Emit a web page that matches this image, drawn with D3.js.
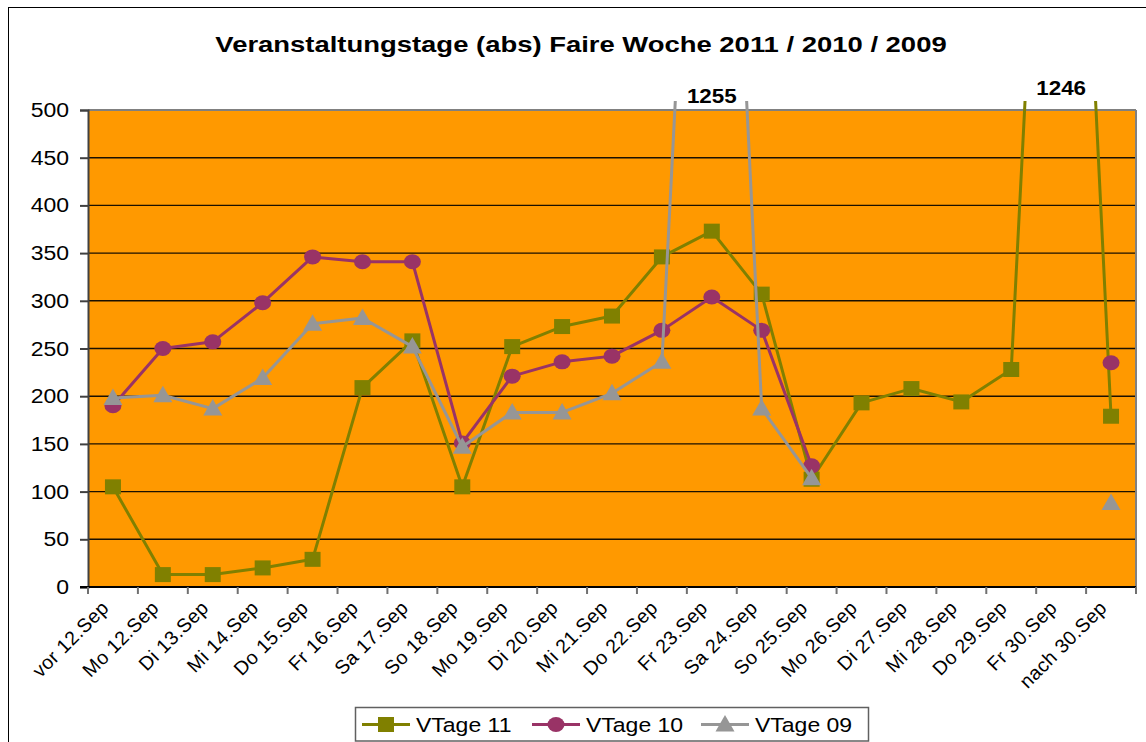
<!DOCTYPE html>
<html>
<head>
<meta charset="utf-8">
<script src="https://cdn.jsdelivr.net/npm/d3@7"></script>
<style>
  html, body { margin: 0; padding: 0; background: #ffffff; }
  svg { display: block; font-family: "Liberation Sans", Arial, sans-serif; }
</style>
</head>
<body>
<svg id="chart" width="1146" height="742"></svg>
<script>
const categories = ["vor 12.Sep","Mo 12.Sep","Di 13.Sep","Mi 14.Sep","Do 15.Sep","Fr 16.Sep","Sa 17.Sep","So 18.Sep","Mo 19.Sep","Di 20.Sep","Mi 21.Sep","Do 22.Sep","Fr 23.Sep","Sa 24.Sep","So 25.Sep","Mo 26.Sep","Di 27.Sep","Mi 28.Sep","Do 29.Sep","Fr 30.Sep","nach 30.Sep"];
const vtage11 = [105, 13, 13, 20, 29, 209, 258, 105, 252, 273, 284, 346, 373, 307, 113, 193, 208, 194, 228, 1246, 179];
const vtage10 = [190, 250, 257, 298, 346, 341, 341, 151, 221, 236, 242, 269, 304, 269, 127, null, null, null, null, null, 235];
const vtage09 = [198, 201, 187, 219, 276, 282, 252, 147, 183, 183, 203, 236, 1255, 187, 114, null, null, null, null, null, 88];
const seriesNames = ["VTage 11", "VTage 10", "VTage 09"];
const yTicks = [0, 50, 100, 150, 200, 250, 300, 350, 400, 450, 500];
const titleText = "Veranstaltungstage (abs) Faire Woche 2011 / 2010 / 2009";

const colors = ["#808000", "#993366", "#969696"];
const shapes = ["square", "circle", "triangle"];
const series = [vtage11, vtage10, vtage09].map((vals, i) => ({
  name: seriesNames[i], color: colors[i], shape: shapes[i],
  points: vals.map((v, j) => ({ cat: categories[j], v }))
}));

const SX = 1.18; // horizontal stretch of the original picture
const svg = d3.select("#chart");
const W = 1146, H = 742;
const plot = { left: 88, right: 1136, top: 110, bottom: 587 };

const x = d3.scaleBand().domain(categories).range([plot.left, plot.right]).padding(0);
const cx = c => x(c) + x.bandwidth() / 2;
const y = d3.scaleLinear().domain([0, 500]).range([plot.bottom, plot.top]);

// outer chart border
svg.append("rect").attr("x", 8.5).attr("y", 7.5).attr("width", W + 10).attr("height", H + 10)
  .attr("fill", "#fff").attr("stroke", "#000").attr("stroke-width", 1);

function stretchedText(sel, tx, ty, txt, opts) {
  const sx = opts.sx == null ? SX : opts.sx;
  const t = sel.append("text")
    .attr("transform", `translate(${tx},${ty}) scale(${sx},1)` + (opts.rot ? ` rotate(${opts.rot})` : ""))
    .attr("font-size", opts.size)
    .attr("font-weight", opts.weight || "normal")
    .attr("text-anchor", opts.anchor || "start")
    .attr("fill", "#000")
    .text(txt);
  if (opts.dy) t.attr("dy", opts.dy);
  if (opts.ls) t.attr("letter-spacing", opts.ls);
  return t;
}

// title
stretchedText(svg, 581, 52, titleText, { size: 22.5, weight: "bold", anchor: "middle", sx: 1.22 });

// plot background
svg.append("rect").attr("x", plot.left).attr("y", plot.top)
  .attr("width", plot.right - plot.left).attr("height", plot.bottom - plot.top)
  .attr("fill", "#FF9900");

// gridlines
svg.append("g").selectAll("line").data(yTicks.filter(t => t > 0 && t < 500)).join("line")
  .attr("x1", plot.left).attr("x2", plot.right)
  .attr("y1", d => y(d)).attr("y2", d => y(d))
  .attr("stroke", "#1a1000").attr("stroke-width", 1.4);

// top & right borders of plot
svg.append("line").attr("x1", plot.left).attr("x2", plot.right).attr("y1", plot.top).attr("y2", plot.top)
  .attr("stroke", "#808080").attr("stroke-width", 2);
svg.append("line").attr("x1", plot.right).attr("x2", plot.right).attr("y1", plot.top).attr("y2", plot.bottom)
  .attr("stroke", "#808080").attr("stroke-width", 2);

// y axis
const yAxis = d3.axisLeft(y).tickValues(yTicks).tickSize(8).tickFormat("");
const yg = svg.append("g").attr("transform", `translate(${plot.left},0)`).call(yAxis);
yg.select(".domain").attr("stroke", "#404040").attr("stroke-width", 2);
yg.selectAll(".tick line").attr("stroke", "#404040").attr("stroke-width", 2);
yTicks.forEach(t => {
  stretchedText(svg, 69, y(t), String(t), { size: 19.5, anchor: "end", dy: "0.36em" });
});

// x axis
const boundaries = categories.map(c => x(c)).concat([plot.right]);
const xg = svg.append("g");
xg.append("line").attr("x1", plot.left - 8).attr("x2", plot.right).attr("y1", plot.bottom).attr("y2", plot.bottom)
  .attr("stroke", "#000").attr("stroke-width", 2);
xg.selectAll("line.tk").data(boundaries).join("line").attr("class", "tk")
  .attr("x1", d => d).attr("x2", d => d).attr("y1", plot.bottom).attr("y2", plot.bottom + 7)
  .attr("stroke", "#707070").attr("stroke-width", 2);
categories.forEach(c => {
  stretchedText(svg, cx(c) - 3, 609, c, { size: 19.5, anchor: "end", rot: -45, sx: 1, ls: 0.4 });
});

// clip for series (lines run slightly above plot top like the original)
svg.append("clipPath").attr("id", "clipSeries").append("rect")
  .attr("x", plot.left).attr("y", 101).attr("width", plot.right - plot.left + 2).attr("height", plot.bottom - 101 + 5);

const line = d3.line().defined(d => d.v != null).x(d => cx(d.cat)).y(d => y(d.v));

function drawMarker(g, shape, color, px, py) {
  if (shape === "square") {
    g.append("rect").attr("x", px - 8).attr("y", py - 7.5).attr("width", 16).attr("height", 15).attr("fill", color);
  } else if (shape === "circle") {
    g.append("ellipse").attr("cx", px).attr("cy", py).attr("rx", 8.5).attr("ry", 7.5).attr("fill", color);
  } else {
    g.append("path").attr("d", `M${px},${py - 9.5} L${px + 9.5},${py + 7} L${px - 9.5},${py + 7} Z`).attr("fill", color);
  }
}

const sg = svg.append("g").attr("clip-path", "url(#clipSeries)");
series.forEach(s => {
  sg.append("path").datum(s.points).attr("d", line)
    .attr("fill", "none").attr("stroke", s.color).attr("stroke-width", 3).attr("stroke-linejoin", "round");
  s.points.forEach(p => {
    if (p.v == null) return;
    drawMarker(sg, s.shape, s.color, cx(p.cat), y(p.v));
  });
});

// labels for off-scale values
series.forEach(s => {
  s.points.forEach(p => {
    if (p.v != null && p.v > 500) {
      const off = p.v > 1250 ? 7 : 15;
      stretchedText(svg, cx(p.cat), plot.top - off, String(p.v), { size: 20, weight: "bold", anchor: "middle", sx: 1.12 });
    }
  });
});

// legend
const lg = svg.append("g");
lg.append("rect").attr("x", 355.5).attr("y", 707.5).attr("width", 513).attr("height", 33.5)
  .attr("fill", "#fff").attr("stroke", "#606060").attr("stroke-width", 1.5);
const legendX = [362, 532, 701];
series.forEach((s, i) => {
  const lx = legendX[i], ly = 724.5;
  lg.append("line").attr("x1", lx).attr("x2", lx + 48).attr("y1", ly).attr("y2", ly)
    .attr("stroke", s.color).attr("stroke-width", 3);
  drawMarker(lg, s.shape, s.color, lx + 24, ly);
  stretchedText(lg, lx + 54, 731.5, s.name, { size: 19.5 });
});
</script>
</body>
</html>
